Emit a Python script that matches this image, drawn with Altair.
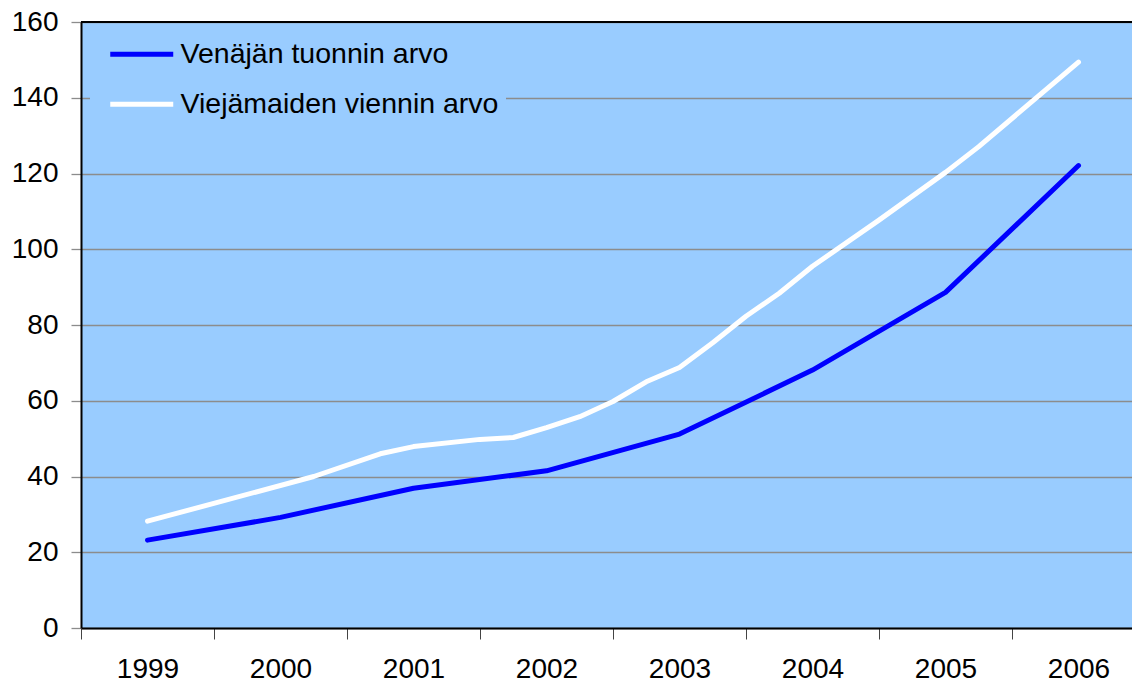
import altair as alt
import pandas as pd

# --- data ---
series_names = ["Venäjän tuonnin arvo", "Viejämaiden viennin arvo"]

blue_x = [1999, 2000, 2001, 2002, 2003, 2004, 2005, 2006]
blue_v = [23.2, 29.2, 36.9, 41.5, 51.2, 68.1, 88.6, 122.1]

white_x = [1999.0, 2000.25, 2000.75, 2001.0, 2001.5, 2001.75, 2002.0, 2002.25,
           2002.5, 2002.75, 2003.0, 2003.25, 2003.5, 2003.75, 2004.0, 2004.5,
           2005.0, 2005.25, 2006.0]
white_v = [28.2, 40.0, 46.0, 47.9, 49.8, 50.3, 52.9, 55.8,
           59.8, 65.0, 68.8, 75.3, 82.3, 88.4, 95.5, 107.7,
           120.3, 127.1, 149.4]

year_labels = ["1999", "2000", "2001", "2002", "2003", "2004", "2005", "2006"]
y_ticks = [0, 20, 40, 60, 80, 100, 120, 140, 160]

rows = []
for i, (x, v) in enumerate(zip(blue_x, blue_v)):
    rows.append({"x": x, "v": v, "s": series_names[0], "o": i})
for i, (x, v) in enumerate(zip(white_x, white_v)):
    rows.append({"x": x, "v": v, "s": series_names[1], "o": i})
df = pd.DataFrame(rows)

W = 1051
H = 606
band = 133.0
x_min = 1998.5
x_max = x_min + W / band
tick_vals = [y - 0.5 for y in range(1999, 2007)]

FONT = "Liberation Sans"

x_enc = alt.X(
    "x:Q",
    scale=alt.Scale(domain=[x_min, x_max], nice=False, zero=False),
    axis=alt.Axis(
        values=tick_vals,
        title=None,
        grid=False,
        labelExpr="format(datum.value + 0.5, 'd')",
        labelOffset=band / 2,
        labelFlush=False,
        labelOverlap=False,
        labelFont=FONT,
        labelFontSize=28,
        labelColor="#000000",
        labelPadding=16,
        tickColor="#444444",
        tickSize=11,
        tickWidth=1,
        domainColor="#000000",
        domainWidth=2,
    ),
)

y_enc = alt.Y(
    "v:Q",
    scale=alt.Scale(domain=[0, 160], nice=False),
    axis=alt.Axis(
        values=y_ticks,
        title=None,
        grid=True,
        gridColor="#8c8c8c",
        gridWidth=1.3,
        labelFont=FONT,
        labelFontSize=28,
        labelColor="#000000",
        labelPadding=13,
        tickColor="#8c8c8c",
        tickSize=10,
        tickWidth=1.3,
        domainColor="#000000",
        domainWidth=2,
    ),
)

# legend symbol: a long horizontal stroke drawn from a custom path
sym_size = 248  # sqrt = 15.75 ; path spans 4*sqrt(size) = 63 px
lines = alt.Chart(df).mark_line(strokeWidth=5, strokeCap="round", strokeJoin="round").encode(
    x=x_enc,
    y=y_enc,
    order="o:Q",
    color=alt.Color(
        "s:N",
        scale=alt.Scale(domain=series_names, range=["#0000FF", "#FFFFFF"]),
        legend=alt.Legend(
            title=None,
            orient="none",
            legendX=9,
            legendY=12,
            padding=6,
            fillColor="#99CCFF",
            strokeColor="#99CCFF",
            symbolType="M0,0H8",
            symbolSize=sym_size,
            symbolStrokeWidth=5,
            labelFont=FONT,
            labelFontSize=28.5,
            labelColor="#000000",
            labelOffset=56,
            labelLimit=600,
            rowPadding=21,
        ),
    ),
)

top_border = alt.Chart(df).mark_rule(color="#000000", strokeWidth=2).encode(
    y=alt.datum(160)
)

chart = (
    alt.layer(lines, top_border)
    .properties(
        width=W,
        height=H,
        autosize=alt.AutoSizeParams(type="none"),
        padding={"left": 73, "top": 14, "right": 0, "bottom": 58},
        background="#FFFFFF",
    )
    .configure_view(fill="#99CCFF", stroke=None)
)

chart.save("out.html", embed_options={"renderer": "svg", "actions": False})
